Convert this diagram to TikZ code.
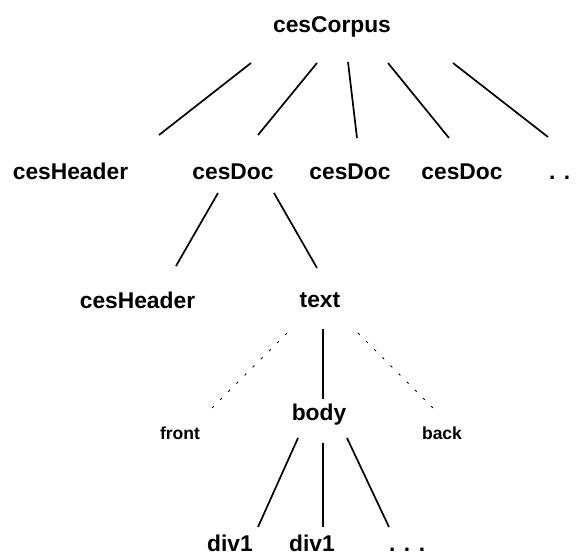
\documentclass[tikz,border=0pt]{standalone}
\usepackage{fontspec}
\setmainfont{Liberation Sans}
\begin{document}
\begin{tikzpicture}[x=1pt,y=-1pt,
  lbl/.style={font=\fontsize{22.8}{26}\selectfont\bfseries, inner sep=0pt, anchor=base},
  small/.style={font=\fontsize{17.5}{20}\selectfont\bfseries, inner sep=0pt, anchor=base},
  edge/.style={line width=1.7pt},
  dedge/.style={line width=0.8pt, dash pattern=on 2.5pt off 9pt}]
\useasboundingbox (0,0) rectangle (584,557);
% nodes
\node[lbl] (corpus) at (332,32) {cesCorpus};
\node[lbl] (hdr1) at (70.5,179) {cesHeader};
\node[lbl] (doc1) at (233,179) {cesDoc};
\node[lbl] (doc2) at (350,179) {cesDoc};
\node[lbl] (doc3) at (462,179) {cesDoc};
\node[lbl, anchor=base west] (more1) at (549,179) {. .};
\node[lbl] (hdr2) at (137.5,308) {cesHeader};
\node[lbl] (text) at (320,307) {text};
\node[small] (front) at (180,439) {front};
\node[lbl] (body) at (319,420) {body};
\node[small] (back) at (442,439) {back};
\node[lbl] (div1a) at (230,551) {div1};
\node[lbl] (div1b) at (312,551) {div1};
\node[lbl, anchor=base west] (more2) at (389,551) {. . .};
% connector ends
\coordinate (c1s) at (251,63);  \coordinate (c1e) at (159,135);
\coordinate (c2s) at (317,63);  \coordinate (c2e) at (258,135);
\coordinate (c3s) at (348,62);  \coordinate (c3e) at (357,138);
\coordinate (c4s) at (388,63);  \coordinate (c4e) at (449,138);
\coordinate (c5s) at (453,63);  \coordinate (c5e) at (548,137);
\coordinate (d1s) at (218,193); \coordinate (d1e) at (176,266);
\coordinate (d2s) at (274,193); \coordinate (d2e) at (317,268);
\coordinate (t1s) at (287,333); \coordinate (t1e) at (209,411);
\coordinate (t2s) at (323,329); \coordinate (t2e) at (323,399);
\coordinate (t3s) at (358,333); \coordinate (t3e) at (437,412);
\coordinate (b1s) at (298,438); \coordinate (b1e) at (258,527);
\coordinate (b2s) at (323,443); \coordinate (b2e) at (323,527);
\coordinate (b3s) at (347,438); \coordinate (b3e) at (389,527);
% connectors
\draw[edge] (c1s) -- (c1e);
\draw[edge] (c2s) -- (c2e);
\draw[edge] (c3s) -- (c3e);
\draw[edge] (c4s) -- (c4e);
\draw[edge] (c5s) -- (c5e);
\draw[edge] (d1s) -- (d1e);
\draw[edge] (d2s) -- (d2e);
\draw[dedge] (t1s) -- (t1e);
\draw[edge] (t2s) -- (t2e);
\draw[dedge] (t3s) -- (t3e);
\draw[edge] (b1s) -- (b1e);
\draw[edge] (b2s) -- (b2e);
\draw[edge] (b3s) -- (b3e);
\end{tikzpicture}
\end{document}
